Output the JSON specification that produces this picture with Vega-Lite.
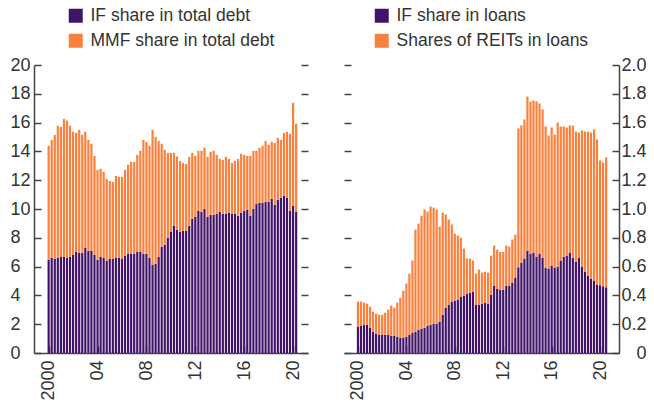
{
  "$schema": "https://vega.github.io/schema/vega-lite/v6.json",
  "padding": {"left": 10, "top": 7, "right": 5, "bottom": 5},
  "background": "white",
  "config": {
    "view": {"stroke": null},
    "font": "Liberation Sans",
    "axis": {"labelFont": "Liberation Sans", "labelFontSize": 18, "labelColor": "#333333", "domainColor": "#444444", "domainWidth": 1.5, "tickColor": "#444444", "tickWidth": 1.5, "grid": false, "title": null, "labelFlush": false, "labelOverlap": false},
    "legend": {"orient": "none", "direction": "vertical", "title": null, "padding": 0, "symbolType": "square", "symbolSize": 196, "symbolStrokeWidth": 0, "labelFont": "Liberation Sans", "labelFontSize": 17.5, "labelColor": "#333333", "labelOffset": 6, "rowPadding": 6, "labelLimit": 400}
  },
  "datasets": {
    "debt": [
      {"t":2000,"fund":6.46,"mmf":7.93},{"t":2000.25,"fund":6.60,"mmf":8.20},{"t":2000.5,"fund":6.53,"mmf":8.62},{"t":2000.75,"fund":6.60,"mmf":9.18},
      {"t":2001,"fund":6.67,"mmf":9.04},{"t":2001.25,"fund":6.67,"mmf":9.59},{"t":2001.5,"fund":6.60,"mmf":9.55},{"t":2001.75,"fund":6.67,"mmf":9.11},
      {"t":2002,"fund":6.81,"mmf":8.55},{"t":2002.25,"fund":7.02,"mmf":8.27},{"t":2002.5,"fund":6.95,"mmf":8.55},{"t":2002.75,"fund":6.95,"mmf":8.20},
      {"t":2003,"fund":7.30,"mmf":8.06},{"t":2003.25,"fund":7.09,"mmf":7.71},{"t":2003.5,"fund":7.09,"mmf":7.44},{"t":2003.75,"fund":6.81,"mmf":6.88},
      {"t":2004,"fund":6.46,"mmf":6.26},{"t":2004.25,"fund":6.67,"mmf":6.12},{"t":2004.5,"fund":6.60,"mmf":5.98},{"t":2004.75,"fund":6.39,"mmf":5.70},
      {"t":2005,"fund":6.53,"mmf":5.42},{"t":2005.25,"fund":6.53,"mmf":5.35},{"t":2005.5,"fund":6.60,"mmf":5.70},{"t":2005.75,"fund":6.60,"mmf":5.63},
      {"t":2006,"fund":6.53,"mmf":5.70},{"t":2006.25,"fund":6.74,"mmf":5.98},{"t":2006.5,"fund":6.88,"mmf":6.19},{"t":2006.75,"fund":6.88,"mmf":6.39},
      {"t":2007,"fund":6.88,"mmf":6.39},{"t":2007.25,"fund":7.02,"mmf":6.74},{"t":2007.5,"fund":7.02,"mmf":7.02},{"t":2007.75,"fund":6.88,"mmf":7.92},
      {"t":2008,"fund":6.88,"mmf":7.78},{"t":2008.25,"fund":6.60,"mmf":7.79},{"t":2008.5,"fund":6.12,"mmf":9.38},{"t":2008.75,"fund":6.19,"mmf":8.82},
      {"t":2009,"fund":6.67,"mmf":8.06},{"t":2009.25,"fund":7.37,"mmf":7.16},{"t":2009.5,"fund":7.51,"mmf":6.60},{"t":2009.75,"fund":8.00,"mmf":5.90},
      {"t":2010,"fund":8.41,"mmf":5.49},{"t":2010.25,"fund":8.83,"mmf":5.07},{"t":2010.5,"fund":8.55,"mmf":5.10},{"t":2010.75,"fund":8.41,"mmf":4.93},
      {"t":2011,"fund":8.48,"mmf":4.72},{"t":2011.25,"fund":8.48,"mmf":4.65},{"t":2011.5,"fund":8.83,"mmf":4.79},{"t":2011.75,"fund":9.32,"mmf":4.58},
      {"t":2012,"fund":9.46,"mmf":4.23},{"t":2012.25,"fund":9.87,"mmf":4.17},{"t":2012.5,"fund":9.80,"mmf":4.24},{"t":2012.75,"fund":10.01,"mmf":4.24},
      {"t":2013,"fund":9.46,"mmf":4.16},{"t":2013.25,"fund":9.60,"mmf":4.37},{"t":2013.5,"fund":9.60,"mmf":4.44},{"t":2013.75,"fund":9.67,"mmf":4.09},
      {"t":2014,"fund":9.80,"mmf":3.68},{"t":2014.25,"fund":9.67,"mmf":3.74},{"t":2014.5,"fund":9.67,"mmf":3.95},{"t":2014.75,"fund":9.73,"mmf":3.75},
      {"t":2015,"fund":9.67,"mmf":3.53},{"t":2015.25,"fund":9.67,"mmf":3.67},{"t":2015.5,"fund":9.53,"mmf":3.95},{"t":2015.75,"fund":9.73,"mmf":4.10},
      {"t":2016,"fund":9.87,"mmf":3.89},{"t":2016.25,"fund":9.94,"mmf":3.75},{"t":2016.5,"fund":9.53,"mmf":4.16},{"t":2016.75,"fund":10.01,"mmf":4.03},
      {"t":2017,"fund":10.36,"mmf":3.68},{"t":2017.25,"fund":10.43,"mmf":3.82},{"t":2017.5,"fund":10.43,"mmf":3.96},{"t":2017.75,"fund":10.50,"mmf":4.23},
      {"t":2018,"fund":10.50,"mmf":3.96},{"t":2018.25,"fund":10.71,"mmf":3.95},{"t":2018.5,"fund":10.29,"mmf":4.30},{"t":2018.75,"fund":10.64,"mmf":4.30},
      {"t":2019,"fund":10.78,"mmf":4.02},{"t":2019.25,"fund":10.91,"mmf":4.38},{"t":2019.5,"fund":10.78,"mmf":4.58},{"t":2019.75,"fund":9.87,"mmf":5.35},
      {"t":2020,"fund":10.22,"mmf":7.15},{"t":2020.25,"fund":9.80,"mmf":6.12}
    ],
    "loans": [
      {"t":2000,"fund":0.183,"reit":0.174},{"t":2000.25,"fund":0.190,"reit":0.167},{"t":2000.5,"fund":0.197,"reit":0.153},{"t":2000.75,"fund":0.197,"reit":0.146},
      {"t":2001,"fund":0.176,"reit":0.146},{"t":2001.25,"fund":0.148,"reit":0.139},{"t":2001.5,"fund":0.134,"reit":0.139},{"t":2001.75,"fund":0.127,"reit":0.139},
      {"t":2002,"fund":0.127,"reit":0.139},{"t":2002.25,"fund":0.127,"reit":0.153},{"t":2002.5,"fund":0.127,"reit":0.174},{"t":2002.75,"fund":0.120,"reit":0.209},
      {"t":2003,"fund":0.120,"reit":0.195},{"t":2003.25,"fund":0.113,"reit":0.237},{"t":2003.5,"fund":0.107,"reit":0.277},{"t":2003.75,"fund":0.107,"reit":0.326},
      {"t":2004,"fund":0.113,"reit":0.369},{"t":2004.25,"fund":0.127,"reit":0.424},{"t":2004.5,"fund":0.141,"reit":0.501},{"t":2004.75,"fund":0.148,"reit":0.709},
      {"t":2005,"fund":0.162,"reit":0.737},{"t":2005.25,"fund":0.169,"reit":0.785},{"t":2005.5,"fund":0.176,"reit":0.820},{"t":2005.75,"fund":0.190,"reit":0.792},
      {"t":2006,"fund":0.197,"reit":0.820},{"t":2006.25,"fund":0.204,"reit":0.806},{"t":2006.5,"fund":0.204,"reit":0.792},{"t":2006.75,"fund":0.218,"reit":0.660},
      {"t":2007,"fund":0.266,"reit":0.709},{"t":2007.25,"fund":0.315,"reit":0.646},{"t":2007.5,"fund":0.336,"reit":0.591},{"t":2007.75,"fund":0.357,"reit":0.535},
      {"t":2008,"fund":0.364,"reit":0.465},{"t":2008.25,"fund":0.371,"reit":0.444},{"t":2008.5,"fund":0.391,"reit":0.410},{"t":2008.75,"fund":0.398,"reit":0.327},
      {"t":2009,"fund":0.412,"reit":0.244},{"t":2009.25,"fund":0.419,"reit":0.237},{"t":2009.5,"fund":0.426,"reit":0.216},{"t":2009.75,"fund":0.336,"reit":0.215},
      {"t":2010,"fund":0.336,"reit":0.243},{"t":2010.25,"fund":0.343,"reit":0.215},{"t":2010.5,"fund":0.348,"reit":0.216},{"t":2010.75,"fund":0.343,"reit":0.215},
      {"t":2011,"fund":0.405,"reit":0.271},{"t":2011.25,"fund":0.466,"reit":0.280},{"t":2011.5,"fund":0.445,"reit":0.273},{"t":2011.75,"fund":0.438,"reit":0.264},
      {"t":2012,"fund":0.438,"reit":0.264},{"t":2012.25,"fund":0.466,"reit":0.280},{"t":2012.5,"fund":0.466,"reit":0.273},{"t":2012.75,"fund":0.489,"reit":0.299},
      {"t":2013,"fund":0.524,"reit":0.298},{"t":2013.25,"fund":0.595,"reit":0.964},{"t":2013.5,"fund":0.628,"reit":0.952},{"t":2013.75,"fund":0.656,"reit":0.966},
      {"t":2014,"fund":0.711,"reit":1.070},{"t":2014.25,"fund":0.690,"reit":1.057},{"t":2014.5,"fund":0.697,"reit":1.057},{"t":2014.75,"fund":0.669,"reit":1.078},
      {"t":2015,"fund":0.690,"reit":1.043},{"t":2015.25,"fund":0.662,"reit":1.029},{"t":2015.5,"fund":0.593,"reit":0.980},{"t":2015.75,"fund":0.586,"reit":0.924},
      {"t":2016,"fund":0.607,"reit":0.959},{"t":2016.25,"fund":0.593,"reit":0.924},{"t":2016.5,"fund":0.600,"reit":1.000},{"t":2016.75,"fund":0.642,"reit":0.931},
      {"t":2017,"fund":0.669,"reit":0.904},{"t":2017.25,"fund":0.676,"reit":0.890},{"t":2017.5,"fund":0.697,"reit":0.883},{"t":2017.75,"fund":0.662,"reit":0.918},
      {"t":2018,"fund":0.635,"reit":0.903},{"t":2018.25,"fund":0.662,"reit":0.869},{"t":2018.5,"fund":0.600,"reit":0.945},{"t":2018.75,"fund":0.565,"reit":0.973},
      {"t":2019,"fund":0.538,"reit":1.000},{"t":2019.25,"fund":0.517,"reit":1.014},{"t":2019.5,"fund":0.503,"reit":1.049},{"t":2019.75,"fund":0.475,"reit":1.008},
      {"t":2020,"fund":0.470,"reit":0.867},{"t":2020.25,"fund":0.463,"reit":0.860},{"t":2020.5,"fund":0.456,"reit":0.902}
    ]
  },
  "spacing": 34,
  "resolve": {"scale": {"color": "independent"}},
  "hconcat": [
    {
      "width": 274,
      "height": 288,
      "data": {"name": "debt"},
      "transform": [{"fold": ["fund", "mmf"], "as": ["s", "v"]}],
      "layer": [
        {
          "mark": {"type": "bar", "width": 2.2},
          "encoding": {
            "x": {"field": "t", "type": "quantitative", "scale": {"domain": [1999.21, 2020.81], "nice": false, "zero": false},
                  "axis": {"values": [2000, 2004, 2008, 2012, 2016, 2020], "labelExpr": "datum.value == 2000 ? '2000' : substring(toString(datum.value), 2, 4)", "labelAngle": 270, "labelAlign": "right", "labelBaseline": "middle", "tickSize": -7, "labelPadding": 14}},
            "y": {"field": "v", "type": "quantitative", "stack": "zero", "scale": {"domain": [0, 20], "nice": false},
                  "axis": {"orient": "left", "values": [0, 2, 4, 6, 8, 10, 12, 14, 16, 18, 20], "labelAlign": "left", "labelBaseline": "middle", "tickSize": -7, "labelPadding": 31}},
            "color": {"field": "s", "type": "nominal", "scale": {"domain": ["fund", "mmf"], "range": ["#411469", "#F9803D"]},
                      "legend": {"labelExpr": "datum.label == 'fund' ? 'IF share in total debt' : 'MMF share in total debt'", "legendX": 33, "legendY": -58}},
            "order": {"field": "s", "sort": "ascending"}
          }
        },
        {
          "mark": {"type": "rule", "opacity": 0},
          "encoding": {
            "y": {"field": "v", "type": "quantitative",
                  "axis": {"orient": "right", "labels": false, "domain": false, "tickSize": -7, "values": [0, 2, 4, 6, 8, 10, 12, 14, 16, 18, 20]}}
          }
        }
      ],
      "resolve": {"axis": {"y": "independent"}}
    },
    {
      "width": 275,
      "height": 288,
      "data": {"name": "loans"},
      "transform": [{"fold": ["fund", "reit"], "as": ["s", "v"]}],
      "layer": [
        {
          "mark": {"type": "bar", "width": 2.2},
          "encoding": {
            "x": {"field": "t", "type": "quantitative", "scale": {"domain": [1999.26, 2021.15], "nice": false, "zero": false},
                  "axis": {"values": [2000, 2004, 2008, 2012, 2016, 2020], "labelExpr": "datum.value == 2000 ? '2000' : substring(toString(datum.value), 2, 4)", "labelAngle": 270, "labelAlign": "right", "labelBaseline": "middle", "tickSize": -7, "labelPadding": 14}},
            "y": {"field": "v", "type": "quantitative", "stack": "zero", "scale": {"domain": [0, 2], "nice": false},
                  "axis": {"orient": "right", "values": [0, 0.2, 0.4, 0.6, 0.8, 1.0, 1.2, 1.4, 1.6, 1.8, 2.0], "labelExpr": "datum.value == 0 ? '0' : format(datum.value, '.1f')", "labelAlign": "right", "labelBaseline": "middle", "tickSize": -7, "labelPadding": 34}},
            "color": {"field": "s", "type": "nominal", "scale": {"domain": ["fund", "reit"], "range": ["#411469", "#F9803D"]},
                      "legend": {"labelExpr": "datum.label == 'fund' ? 'IF share in loans' : 'Shares of REITs in loans'", "legendX": 29, "legendY": -58}},
            "order": {"field": "s", "sort": "ascending"}
          }
        },
        {
          "mark": {"type": "rule", "opacity": 0},
          "encoding": {
            "y": {"field": "v", "type": "quantitative",
                  "axis": {"orient": "left", "labels": false, "domain": false, "tickSize": -7, "values": [0, 0.2, 0.4, 0.6, 0.8, 1.0, 1.2, 1.4, 1.6, 1.8, 2.0]}}
          }
        }
      ],
      "resolve": {"axis": {"y": "independent"}}
    }
  ]
}
